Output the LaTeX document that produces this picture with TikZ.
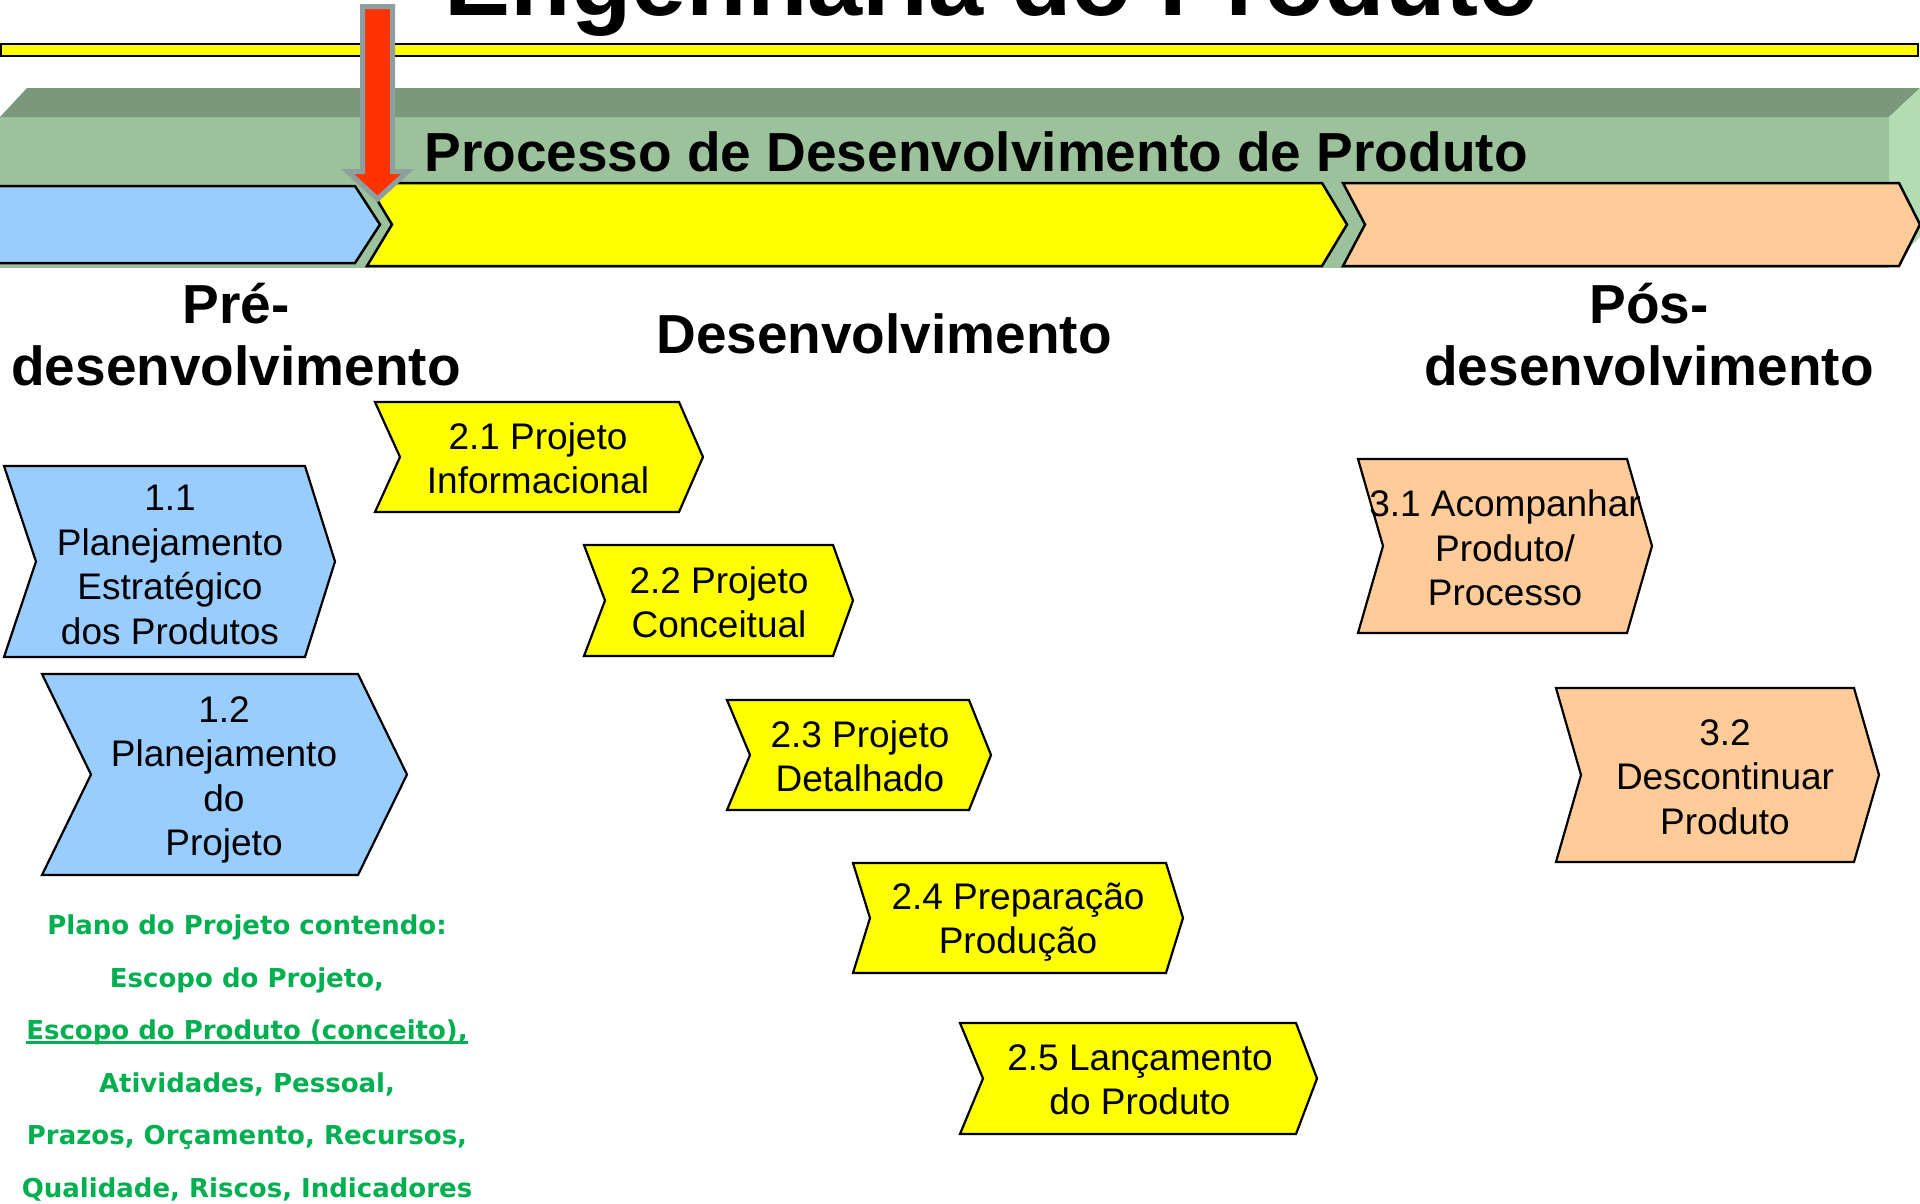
\documentclass[tikz,border=0pt]{standalone}
\usepackage{fontspec}
\setmainfont{Liberation Sans}
\newfontfamily\verdfont{DejaVu Sans}
\usepackage{xcolor}

\definecolor{pdpblue}{HTML}{99CCFF}
\definecolor{pdpyellow}{HTML}{FFFF00}
\definecolor{pdppeach}{HTML}{FFCC99}
\definecolor{bandfront}{HTML}{9BC29B}
\definecolor{bandtop}{HTML}{7A997A}
\definecolor{bandside}{HTML}{B2DDB2}
\definecolor{arrowred}{HTML}{FF3300}
\definecolor{arrowgray}{HTML}{8CA0A0}
\definecolor{plangreen}{HTML}{00B050}

\newsavebox\ulbox
\newcommand\ulgreen[1]{\sbox\ulbox{#1}\rlap{\rule[-4pt]{\wd\ulbox}{2.4pt}}\usebox\ulbox}

\begin{document}
\begin{tikzpicture}[x=1pt,y=-1pt,
 chevtxt/.style={align=center,inner sep=0pt,font=\fontsize{37}{44.4}\selectfont},
 phasetxt/.style={align=center,inner sep=0pt,font=\bfseries\fontsize{55}{62}\selectfont},
 greentxt/.style={align=center,inner sep=0pt,text=plangreen,
   font=\verdfont\bfseries\fontsize{26}{52.5}\selectfont}]
 \useasboundingbox (0,0) rectangle (1920,1203);
 \clip (0,0) rectangle (1920,1203);
 \node[anchor=base,inner sep=0pt,font=\bfseries\fontsize{99}{110}\selectfont] (title) at (992,15) {Engenharia do Produto};
 \draw[line width=2.5pt,fill=pdpyellow] (1,44) rectangle (1918,56);
 \fill[bandfront] (0,117) rectangle (1889,268);
 \fill[bandtop] (0,117) -- (27,88) -- (1920,88) -- (1889,117) -- cycle;
 \fill[bandside] (1889,117) -- (1920,88) -- (1920,237) -- (1889,268) -- cycle;
 \foreach \xl/\xn/\xr/\xt/\yt/\yb/\col in {-5/-5/355/380/186/263/pdpblue,
   367/392/1322/1347/183/266/pdpyellow,1343/1365/1899/1920/183/266/pdppeach}
  \draw[line width=2.5pt,fill=\col] (\xl,\yt) -- (\xr,\yt) -- (\xt,{(\yt+\yb)/2})
   -- (\xr,\yb) -- (\xl,\yb) -- (\xn,{(\yt+\yb)/2}) -- cycle;
 \node[anchor=base,inner sep=0pt,font=\bfseries\fontsize{55}{62}\selectfont] (pdp) at (976,171)
  {Processo de Desenvolvimento de Produto};
 \draw[arrowgray,line width=5pt,fill=arrowred] (362.5,6.5) -- (392.5,6.5) -- (392.5,171.5)
  -- (407.5,171.5) -- (377.5,199) -- (347.5,171.5) -- (362.5,171.5) -- cycle;
 \foreach \xl/\xn/\xr/\xt/\yt/\yb/\col in {4/36/305/335/466/657/pdpblue,
   42/91/358/407/674/875/pdpblue,375/400/679/703/402/512/pdpyellow,
   584/605/833/853/545/656/pdpyellow,727/750/969/991/700/810/pdpyellow,
   853/870/1166/1183/863/973/pdpyellow,960/983/1296/1317/1023/1134/pdpyellow,
   1358/1383/1627/1652/459/633/pdppeach,1556/1581/1854/1879/688/862/pdppeach}
  \draw[line width=2.2pt,fill=\col] (\xl,\yt) -- (\xr,\yt) -- (\xt,{(\yt+\yb)/2})
   -- (\xr,\yb) -- (\xl,\yb) -- (\xn,{(\yt+\yb)/2}) -- cycle;
 \node[phasetxt] (pre) at (236,335) {Pré-\\desenvolvimento};
 \node[phasetxt,anchor=base] (dev) at (884,353) {Desenvolvimento};
 \node[phasetxt] (pos) at (1649,335) {Pós-\\desenvolvimento};
 \node[chevtxt] (estr) at (170,565) {1.1\\Planejamento\\Estratégico\\dos Produtos};
 \node[chevtxt] (plproj) at (224,780) {1.2\\Planejamento\\do\\Projeto};
 \node[chevtxt] (inf) at (538,458) {2.1 Projeto\\Informacional};
 \node[chevtxt] (conc) at (719,602) {2.2 Projeto\\Conceitual};
 \node[chevtxt] (det) at (860,756) {2.3 Projeto\\Detalhado};
 \node[chevtxt] (prep) at (1018,922) {2.4 Preparação\\Produção};
 \node[chevtxt] (lanc) at (1140,1080) {2.5 Lançamento\\do Produto};
 \node[chevtxt] (acomp) at (1505,548) {3.1 Acompanhar\\Produto/\\Processo};
 \node[chevtxt] (descont) at (1725,777) {3.2\\Descontinuar\\Produto};
 \node[greentxt] (plano) at (247,1058) {Plano do Projeto contendo:\\Escopo do Projeto,\\
  \ulgreen{Escopo do Produto (conceito),}\\Atividades, Pessoal,\\
  Prazos, Orçamento, Recursos,\\Qualidade, Riscos, Indicadores};
\end{tikzpicture}
\end{document}
